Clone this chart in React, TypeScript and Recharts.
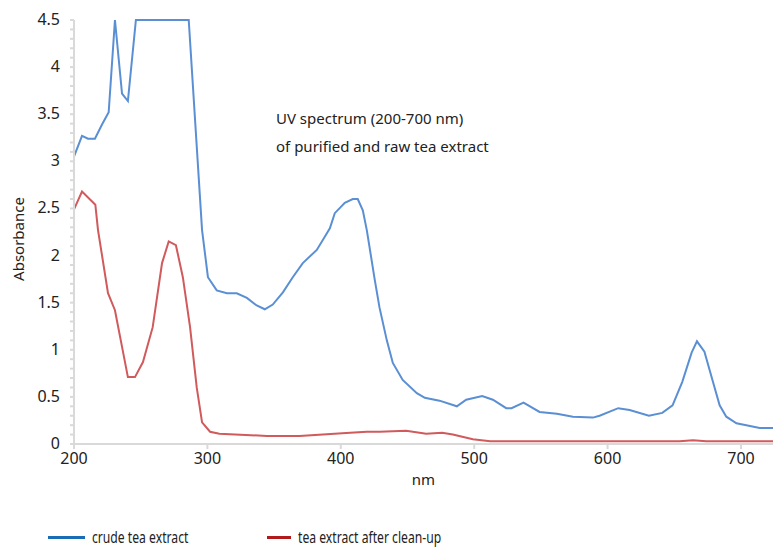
import { LineChart, Line, XAxis, YAxis } from "recharts";

// wavelength (nm) and absorbance
const crudeNm = [
  200, 206, 210.5, 215.7, 221, 226, 230.7, 236, 240.4, 246.4, 286, 296, 300.4, 307, 314.6,
  322, 329.6, 337, 343, 349, 356.6, 364, 371.5, 382, 388, 391.8, 395.5, 403, 409, 412.7,
  416.5, 419.5, 425.5, 429, 434.5, 439, 446.4, 457, 463, 474, 487, 494, 506, 514, 524,
  528, 537, 549, 562, 574, 589, 594, 608, 616.5, 631, 641, 648.7, 656, 663, 667, 672.6,
  678.6, 684, 689, 696.6, 704, 714, 724,
];
const crudeAbs = [
  3.05, 3.27, 3.24, 3.24, 3.39, 3.52, 4.5, 3.72, 3.64, 4.5, 4.5, 2.27, 1.77, 1.63, 1.6,
  1.6, 1.55, 1.47, 1.43, 1.48, 1.61, 1.77, 1.92, 2.06, 2.2, 2.29, 2.45, 2.56, 2.6, 2.6,
  2.48, 2.27, 1.74, 1.45, 1.1, 0.86, 0.68, 0.54, 0.49, 0.46, 0.4, 0.47, 0.51, 0.47, 0.38,
  0.38, 0.44, 0.34, 0.32, 0.29, 0.28, 0.3, 0.38, 0.36, 0.3, 0.33, 0.41, 0.66, 0.97, 1.09,
  0.98, 0.68, 0.41, 0.29, 0.22, 0.2, 0.17, 0.17,
];

const cleanNm = [
  200, 206, 216, 218, 225.5, 230.7, 240.4, 245.7, 251.7, 259, 266, 271, 276.4, 281.6, 287,
  292, 296, 302, 309, 344.6, 369, 407, 419.5, 429, 449, 464, 476, 484, 499, 512, 654, 664,
  674, 724,
];
const cleanAbs = [
  2.49, 2.68, 2.54, 2.27, 1.6, 1.42, 0.71, 0.71, 0.87, 1.24, 1.92, 2.15, 2.11, 1.77, 1.24,
  0.6, 0.23, 0.13, 0.11, 0.085, 0.085, 0.12, 0.13, 0.13, 0.14, 0.11, 0.12, 0.1, 0.05, 0.03,
  0.03, 0.04, 0.03, 0.03,
];

const xTicks = [200, 300, 400, 500, 600, 700];

const seriesNames = ["crude tea extract", "tea extract after clean-up"];
const titleLines = ["UV spectrum (200-700 nm)", "of purified and raw tea extract"];

const crudeData = crudeNm.map((nm, i) => ({ nm, abs: crudeAbs[i] }));
const cleanData = cleanNm.map((nm, i) => ({ nm, abs: cleanAbs[i] }));

// minor ticks every 0.1, labels only on the 0.5 steps
const yTicks: number[] = [];
for (let i = 0; i <= 45; i++) yTicks.push(i / 10);

const FONT = "'Noto Sans', 'Open Sans', sans-serif";
const AXIS_GRAY = "#d9d9d9";

function YTick(props: any) {
  const { x, y, payload } = props;
  const v = payload.value;
  if (Math.abs(v * 2 - Math.round(v * 2)) > 1e-6) return <g />;
  return (
    <text x={x} y={y} dy={5} textAnchor="end" fill="#222" fontSize={16} fontFamily={FONT}>
      {String(v)}
    </text>
  );
}

function YLabel(props: any) {
  const { viewBox } = props;
  const cy = viewBox.y + viewBox.height / 2 + 7;
  const cx = 18;
  return (
    <text
      x={cx}
      y={cy}
      transform={`rotate(-90 ${cx} ${cy})`}
      textAnchor="middle"
      dominantBaseline="central"
      fill="#222"
      fontSize={15}
      fontFamily={FONT}
    >
      Absorbance
    </text>
  );
}

export default function App() {
  return (
    <div style={{ position: "relative", width: 773, height: 549, background: "#fff" }}>
      <style>{`body{margin:0}`}</style>
      <LineChart
        width={773}
        height={549}
        margin={{ top: 20, right: 0, bottom: 60, left: 0 }}
        style={{ fontFamily: FONT }}
      >
        <XAxis
          dataKey="nm"
          type="number"
          domain={[200, 724]}
          ticks={xTicks}
          allowDataOverflow
          height={45}
          stroke={AXIS_GRAY}
          strokeWidth={2}
          tickSize={5}
          tickMargin={4}
          tick={{ fill: "#222", fontSize: 16, fontFamily: FONT }}
          label={{ value: "nm", position: "insideBottom", offset: 4, fill: "#222", fontSize: 15, fontFamily: FONT }}
        />
        <YAxis
          type="number"
          domain={[0, 4.5]}
          ticks={yTicks}
          interval={0}
          width={74}
          stroke={AXIS_GRAY}
          strokeWidth={2}
          tickSize={4}
          tickMargin={10}
          tick={<YTick />}
          label={<YLabel />}
        />
        <Line
          data={crudeData}
          dataKey="abs"
          type="linear"
          stroke="#5b8fd4"
          strokeWidth={2}
          dot={false}
          isAnimationActive={false}
        />
        <Line
          data={cleanData}
          dataKey="abs"
          type="linear"
          stroke="#d05a5c"
          strokeWidth={2}
          dot={false}
          isAnimationActive={false}
        />
      </LineChart>

      <div
        style={{
          position: "absolute",
          left: 276,
          top: 104,
          fontFamily: FONT,
          fontSize: 15,
          lineHeight: "28px",
          color: "#222",
          whiteSpace: "nowrap",
        }}
      >
        {titleLines.map((t) => (
          <div key={t}>{t}</div>
        ))}
      </div>

      <div
        style={{
          position: "absolute",
          left: 48,
          top: 526,
          display: "flex",
          alignItems: "center",
          fontFamily: FONT,
          fontSize: 16,
          color: "#222",
        }}
      >
        {seriesNames.map((name, i) => (
          <div key={name} style={{ display: "flex", alignItems: "center", width: 219 }}>
            <span
              style={{
                display: "inline-block",
                width: 37,
                height: 3,
                background: i === 0 ? "#1b6cb6" : "#b01a1a",
                marginRight: 7,
              }}
            />
            <span
              style={{
                whiteSpace: "nowrap",
                display: "inline-block",
                transform: "scaleX(0.76)",
                transformOrigin: "left center",
              }}
            >
              {name}
            </span>
          </div>
        ))}
      </div>
    </div>
  );
}
